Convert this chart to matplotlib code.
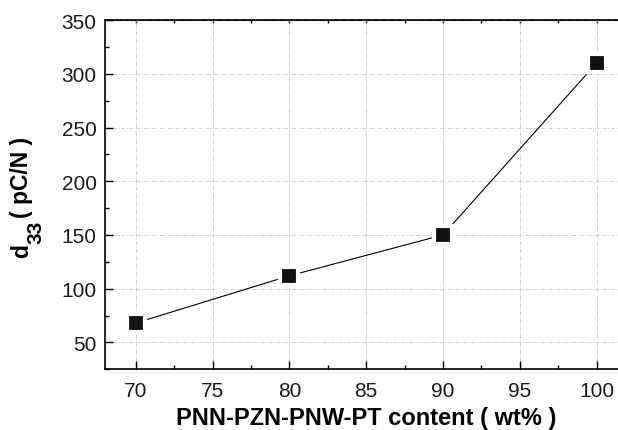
import matplotlib
matplotlib.use("Agg")
import matplotlib.pyplot as plt
from matplotlib.ticker import MultipleLocator, NullFormatter

plt.rcParams['font.family'] = ['Liberation Sans', 'DejaVu Sans']

content_wt = [70, 80, 90, 100]
d33_pcn = [68, 112, 150, 310]

W, H = 618, 431
fig = plt.figure(figsize=(W / 100, H / 100), dpi=100)
ax = fig.add_axes([0.170, 0.141, 0.845, 0.810])

ax.plot(content_wt, d33_pcn, color='black', lw=0.8, marker='s', ms=13,
        mfc='#111111', mec='white', mew=3.0, zorder=3)

ax.set_xlim(68, 102)
ax.set_ylim(25, 350)
ax.xaxis.set_major_locator(MultipleLocator(5))
ax.xaxis.set_minor_locator(MultipleLocator(2.5))
ax.yaxis.set_major_locator(MultipleLocator(50))
ax.yaxis.set_minor_locator(MultipleLocator(25))

ax.grid(True, which='major', color='#cfcfcf', ls=(0, (4, 1.5, 1, 1.5)), lw=0.7)
ax.tick_params(which='both', direction='in', top=False, right=True,
               labelsize=15, width=1.0, labelcolor='#1a1a1a')
ax.tick_params(which='major', length=5.5)
ax.tick_params(which='minor', length=3)
ax.tick_params(axis='x', pad=8.5)
ax.tick_params(axis='y', pad=6)
for s in ax.spines.values():
    s.set_linewidth(1.2)

# short inward ticks along the top edge
top = ax.secondary_xaxis('top')
top.xaxis.set_major_locator(MultipleLocator(5))
top.xaxis.set_minor_locator(MultipleLocator(2.5))
top.xaxis.set_major_formatter(NullFormatter())
top.tick_params(which='both', direction='in', length=2.5, width=1.0)

ax.set_xlabel('PNN-PZN-PNW-PT content ( wt% )', fontsize=17,
              fontweight='bold', labelpad=4.5)

# y label built from pieces so the subscript stays large
px = lambda x, y: (x / W, 1 - y / H)
renderer = fig.canvas.get_renderer()
kw = dict(rotation=90, rotation_mode='anchor', ha='left', va='baseline',
          fontweight='bold', transform=fig.transFigure)
base_x, sub_x, y0 = 28, 42, 258
t1 = fig.text(*px(base_x, y0), 'd', fontsize=16.5, **kw)
h1 = t1.get_window_extent(renderer).height
t2 = fig.text(*px(sub_x, y0 - h1), '33', fontsize=15, **kw)
h2 = t2.get_window_extent(renderer).height
fig.text(*px(base_x, y0 - h1 - h2 - 3), '( pC/N )', fontsize=16.5, **kw)

fig.savefig('out.png', dpi=100)
